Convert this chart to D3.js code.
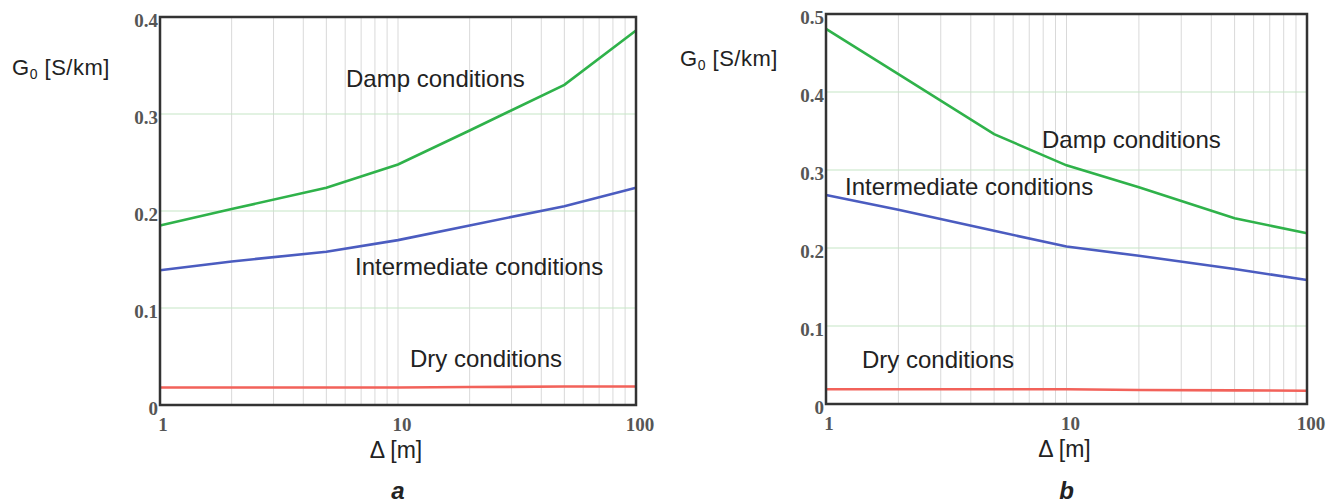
<!DOCTYPE html>
<html><head><meta charset="utf-8">
<script src="https://cdn.jsdelivr.net/npm/d3@7"></script>
<style>body{margin:0;background:#fff}svg{display:block}</style>
</head><body>
<svg id="chart" width="1338" height="503"></svg>
<script>
// ---- data ----
const deltaValues = [1, 2, 5, 10, 20, 50, 100];
const dampA = [0.185, 0.202, 0.224, 0.248, 0.283, 0.330, 0.386];
const intermediateA = [0.139, 0.148, 0.158, 0.170, 0.185, 0.205, 0.224];
const dryA = [0.018, 0.018, 0.018, 0.018, 0.0185, 0.019, 0.019];
const dampB = [0.481, 0.423, 0.346, 0.306, 0.278, 0.238, 0.219];
const intermediateB = [0.268, 0.249, 0.222, 0.202, 0.190, 0.173, 0.159];
const dryB = [0.019, 0.019, 0.019, 0.019, 0.018, 0.0175, 0.017];
const xTickLabels = [1, 10, 100];
const yTicksA = [0, 0.1, 0.2, 0.3, 0.4];
const yTicksB = [0, 0.1, 0.2, 0.3, 0.4, 0.5];
const seriesNames = ["Damp conditions", "Intermediate conditions", "Dry conditions"];
const panelLetters = ["a", "b"];

const colors = {damp: "#2fb24a", inter: "#4b5cc0", dry: "#f2625a"};
const sans = "Liberation Sans, Arial, sans-serif";
const serif = "Liberation Serif, Times New Roman, serif";
const svg = d3.select("#chart");

function panel(cfg) {
  const g = svg.append("g");
  const x = d3.scaleLog().domain([1, 100]).range([cfg.x0, cfg.x1]);
  const y = d3.scaleLinear().domain([0, cfg.yMax]).range([cfg.y1, cfg.y0]);
  // vertical log grid
  const minor = [];
  [1, 10].forEach(d => { for (let k = 2; k <= 9; k++) minor.push(d * k); });
  minor.push(10);
  g.selectAll(".vg").data(minor).join("line")
    .attr("x1", d => x(d)).attr("x2", d => x(d))
    .attr("y1", cfg.y0).attr("y2", cfg.y1)
    .attr("stroke", "#d9d9d9").attr("stroke-width", 1);
  // horizontal grid
  g.selectAll(".hg").data(cfg.yTicks.filter(v => v > 0 && v < cfg.yMax)).join("line")
    .attr("x1", cfg.x0).attr("x2", cfg.x1)
    .attr("y1", d => y(d)).attr("y2", d => y(d))
    .attr("stroke", "#c6e6c6").attr("stroke-width", 1.2);
  // series
  const line = d3.line().x((d, i) => x(deltaValues[i])).y(d => y(d));
  [[cfg.damp, colors.damp], [cfg.inter, colors.inter], [cfg.dry, colors.dry]].forEach(([vals, c]) => {
    g.append("path").attr("d", line(vals)).attr("fill", "none")
      .attr("stroke", c).attr("stroke-width", 2.6);
  });
  // frame
  g.append("rect").attr("x", cfg.x0).attr("y", cfg.y0)
    .attr("width", cfg.x1 - cfg.x0).attr("height", cfg.y1 - cfg.y0)
    .attr("fill", "none").attr("stroke", "#333").attr("stroke-width", 2.5);
  // y tick labels
  g.selectAll(".yt").data(cfg.yTicks).join("text")
    .attr("x", cfg.x0 - 2).attr("y", d => y(d) + 10)
    .attr("text-anchor", "end")
    .attr("font-family", serif).attr("font-weight", "bold")
    .attr("font-size", 19).attr("fill", "#555")
    .text(d => d === 0 ? "0" : d3.format(".1f")(d));
  // x tick labels
  g.selectAll(".xt").data(xTickLabels).join("text")
    .attr("x", d => x(d) + (d === 1 ? 3 : d === 100 ? 4 : 4)).attr("y", cfg.y1 + 26)
    .attr("text-anchor", "middle")
    .attr("font-family", serif).attr("font-weight", "bold")
    .attr("font-size", 19).attr("fill", "#555")
    .text(d => d);
  // axis titles
  const yt = g.append("text").attr("x", cfg.ylabX).attr("y", cfg.ylabY)
    .attr("font-family", sans).attr("font-size", 22).attr("letter-spacing", 0.5).attr("fill", "#222");
  yt.append("tspan").text("G");
  yt.append("tspan").attr("font-size", 14).attr("dy", 4).text("0");
  yt.append("tspan").attr("dy", -4).text(" [S/km]");
  g.append("text").attr("x", x(10) - 2).attr("y", cfg.y1 + 53)
    .attr("text-anchor", "middle")
    .attr("font-family", sans).attr("font-size", 23).attr("fill", "#222")
    .text("\u0394 [m]");
  g.append("text").attr("x", x(10)).attr("y", 499)
    .attr("text-anchor", "middle")
    .attr("font-family", sans).attr("font-size", 24)
    .attr("font-style", "italic").attr("font-weight", "bold").attr("fill", "#222")
    .text(cfg.letter);
  // series labels
  cfg.labels.forEach((p, i) => {
    g.append("text").attr("x", p[0]).attr("y", p[1])
      .attr("font-family", sans).attr("font-size", 24).attr("fill", "#222")
      .text(seriesNames[i]);
  });
}

panel({x0: 160, x1: 636, y0: 17, y1: 405, yMax: 0.4, yTicks: yTicksA,
  damp: dampA, inter: intermediateA, dry: dryA, letter: panelLetters[0],
  ylabX: 12, ylabY: 75,
  labels: [[346, 87], [355, 275], [410, 367]]});
panel({x0: 826, x1: 1307, y0: 14, y1: 404, yMax: 0.5, yTicks: yTicksB,
  damp: dampB, inter: intermediateB, dry: dryB, letter: panelLetters[1],
  ylabX: 680, ylabY: 66,
  labels: [[1042, 148], [845, 195], [862, 368]]});
</script>
</body></html>
